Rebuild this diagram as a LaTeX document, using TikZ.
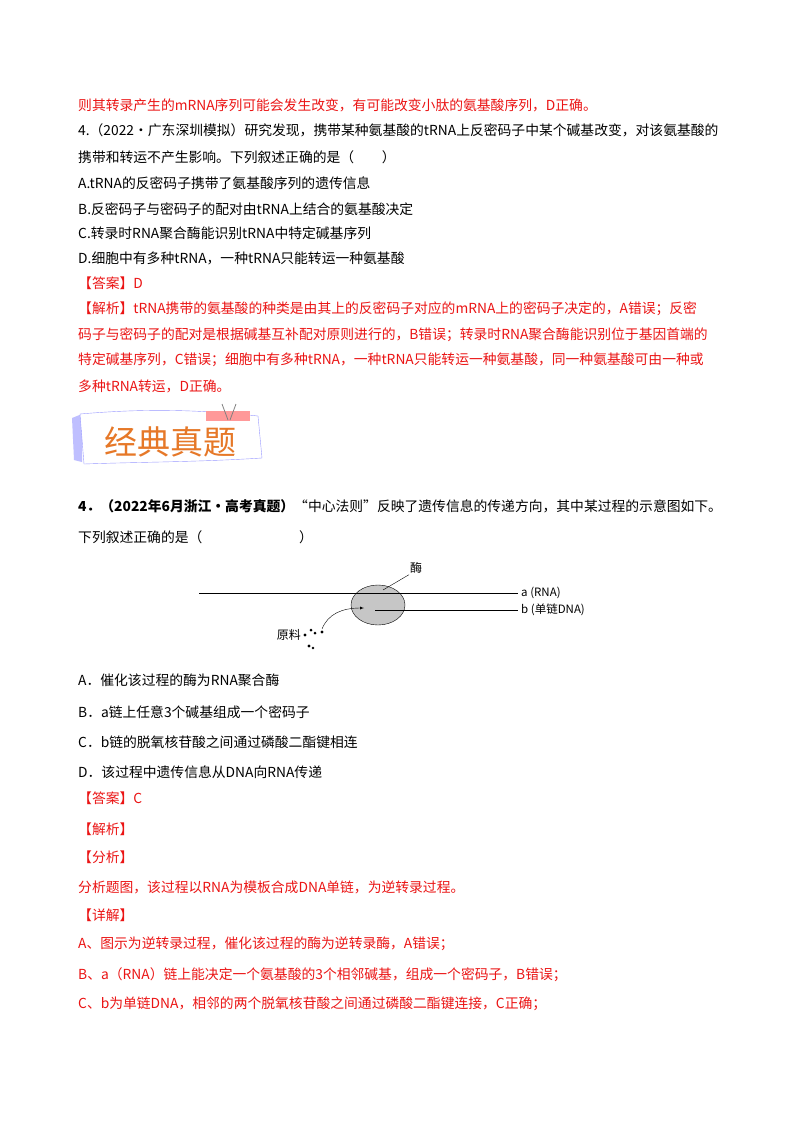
\documentclass[tikz,border=0pt]{standalone}
\usepackage{fontspec}
\usetikzlibrary{shapes.geometric}
\setmainfont{Noto Sans CJK SC}
\definecolor{rd}{RGB}{235,20,20}
\definecolor{og}{RGB}{230,120,40}
\begin{document}
\begin{tikzpicture}[x=1pt,y=-1pt,
 t/.style={anchor=west,inner sep=0pt,font=\fontsize{13.8}{15}\selectfont},
 r/.style={t,text=rd}]
\useasboundingbox (0,0) rectangle (800,1132);
\fill[white] (0,0) rectangle (800,1132);
\node[r] (l1) at (78,105) {则其转录产生的mRNA序列可能会发生改变，有可能改变小肽的氨基酸序列，D正确。};
\node[t] (l2) at (78,130) {4.（2022·广东深圳模拟）研究发现，携带某种氨基酸的tRNA上反密码子中某个碱基改变，对该氨基酸的};
\node[t] (l3) at (78,157) {携带和转运不产生影响。下列叙述正确的是（\quad\quad）};
\node[t] (l4) at (78,183) {A.tRNA的反密码子携带了氨基酸序列的遗传信息};
\node[t] (l5) at (78,209) {B.反密码子与密码子的配对由tRNA上结合的氨基酸决定};
\node[t] (l6) at (78,233) {C.转录时RNA聚合酶能识别tRNA中特定碱基序列};
\node[t] (l7) at (78,258) {D.细胞中有多种tRNA，一种tRNA只能转运一种氨基酸};
\node[r] (l8) at (78,283) {【答案】D};
\node[r] (l9) at (78,309) {【解析】tRNA携带的氨基酸的种类是由其上的反密码子对应的mRNA上的密码子决定的，A错误；反密};
\node[r] (l10) at (78,335) {码子与密码子的配对是根据碱基互补配对原则进行的，B错误；转录时RNA聚合酶能识别位于基因首端的};
\node[r] (l11) at (78,360) {特定碱基序列，C错误；细胞中有多种tRNA，一种tRNA只能转运一种氨基酸，同一种氨基酸可由一种或};
\node[r] (l12) at (78,386) {多种tRNA转运，D正确。};
% banner
\fill[blue!25] (72,418) -- (82,414) -- (82,462) -- (74,460) -- cycle;
\draw[blue!40,fill=white] (80,414) .. controls (150,408) and (200,410) .. (258,416) -- (262,458) .. controls (200,462) and (140,462) .. (84,464) -- cycle;
\fill[pink!80!red] (206,411) rectangle (250,421);
\draw[gray,thick] (222,404) -- (228,420) (236,404) -- (230,420);
\node[inner sep=0pt,text=og,font=\fontsize{33}{35}\selectfont] (bn) at (170,442) {经典真题};
% question
\node[t] (q1) at (78,506) {\textbf{4．（2022年6月浙江·高考真题）}“中心法则”反映了遗传信息的传递方向，其中某过程的示意图如下。};
\node[t] (q2) at (78,537) {下列叙述正确的是（\hspace{7em}）};
% diagram
\coordinate (a0) at (199,593); \coordinate (a1) at (518,593);
\coordinate (b0) at (375,610); \coordinate (b1) at (518,610);
\node[draw,ellipse,fill=gray!45,minimum width=54,minimum height=40,inner sep=0pt] (ell) at (378,605) {};
\draw (a0) -- (a1);
\draw (b0) -- (b1);
\node[anchor=west,inner sep=1pt,font=\fontsize{11.5}{12}\selectfont] (la) at (520,593) {a (RNA)};
\node[anchor=west,inner sep=1pt,font=\fontsize{11.5}{12}\selectfont] (lb) at (520,610) {b (单链DNA)};
\node[anchor=west,inner sep=1pt,font=\fontsize{12}{12}\selectfont] (enz) at (409,568) {酶};
\draw (enz.south west) -- (383,590);
\node[anchor=east,inner sep=1pt,font=\fontsize{12}{12}\selectfont] (raw) at (302,635) {原料};
\coordinate (cs) at (322,629); \coordinate (ce) at (364,608);
\draw[-latex] (cs) .. controls (328,614) and (342,608) .. (ce);
\fill (305,635) circle (1.6) (311,630) circle (1.5) (315,633) circle (1.5) (322,632) circle (1.7) (309,646) circle (1.6) (313,648) circle (1.4);
\node[t] (o1) at (78,680) {A．催化该过程的酶为RNA聚合酶};
\node[t] (o2) at (78,712) {B．a链上任意3个碱基组成一个密码子};
\node[t] (o3) at (78,742) {C．b链的脱氧核苷酸之间通过磷酸二酯键相连};
\node[t] (o4) at (78,772) {D．该过程中遗传信息从DNA向RNA传递};
\node[r] (s1) at (78,798) {【答案】C};
\node[r] (s2) at (78,829) {【解析】};
\node[r] (s3) at (78,857) {【分析】};
\node[r] (s4) at (78,887) {分析题图，该过程以RNA为模板合成DNA单链，为逆转录过程。};
\node[r] (s5) at (78,915) {【详解】};
\node[r] (s6) at (78,944) {A、图示为逆转录过程，催化该过程的酶为逆转录酶，A错误；};
\node[r] (s7) at (78,975) {B、a（RNA）链上能决定一个氨基酸的3个相邻碱基，组成一个密码子，B错误；};
\node[r] (s8) at (78,1004) {C、b为单链DNA，相邻的两个脱氧核苷酸之间通过磷酸二酯键连接，C正确；};
\end{tikzpicture}
\end{document}
